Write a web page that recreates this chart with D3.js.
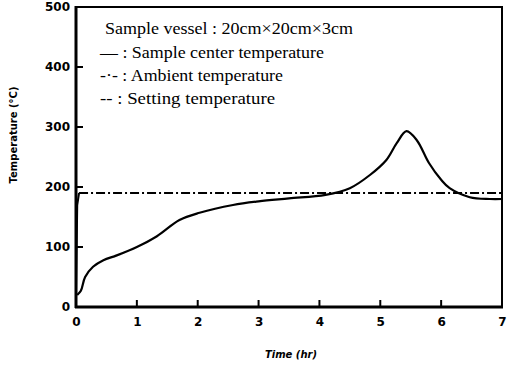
<!DOCTYPE html>
<html><head><meta charset="utf-8">
<script src="https://cdn.jsdelivr.net/npm/d3@7"></script>
<style>body{margin:0;background:#fff}svg{display:block}</style>
</head><body>
<svg id="c" width="513" height="366"></svg>
<script>
const xTicks = [0,1,2,3,4,5,6,7];
const yTicks = [0,100,200,300,400,500];
const centerTime = [0.02,0.08,0.15,0.28,0.45,0.67,1.0,1.33,1.7,2.03,2.58,3.0,3.5,4.1,4.5,4.83,5.1,5.27,5.43,5.6,5.8,6.0,6.14,6.47,6.8,7.0];
const centerTemp = [20,27,50,67,78,86,100,118,145,157,170,176,181,187,198,220,245,273,293,278,240,212,198,183,180,180];
const ambientTime = [0,0.02,0.05,1,2,3,4,5,6,7];
const ambientTemp = [20,170,190,190,190,190,190,190,190,190];
const legendLines = ["Sample vessel : 20cm\u00D720cm\u00D73cm","\u2014 : Sample center temperature","-\u00B7- : Ambient temperature","-- : Setting temperature"];

const svg = d3.select("#c");
const x = d3.scaleLinear().domain([0,7]).range([76,502]);
const y = d3.scaleLinear().domain([0,500]).range([307,7]);

// frame
svg.append("rect").attr("x",76).attr("y",7).attr("width",426).attr("height",300)
  .attr("fill","none").attr("stroke","#000").attr("stroke-width",2);
svg.append("line").attr("x1",76).attr("x2",76).attr("y1",6).attr("y2",308).attr("stroke","#000").attr("stroke-width",3);
svg.append("line").attr("x1",75).attr("x2",503).attr("y1",307).attr("y2",307).attr("stroke","#000").attr("stroke-width",3);

const tf = "'DejaVu Sans', sans-serif";
const xAxis = d3.axisBottom(x).tickValues(xTicks).tickSize(0).tickPadding(10).tickFormat(d3.format("d"));
const gx = svg.append("g").attr("transform","translate(0,307)").call(xAxis);
gx.select(".domain").remove();
gx.selectAll("text").attr("font-family",tf).attr("font-weight","bold").attr("font-size",12);
const yAxis = d3.axisLeft(y).tickValues(yTicks).tickSize(0).tickPadding(6).tickFormat(d3.format("d"));
const gy = svg.append("g").attr("transform","translate(76,0)").call(yAxis);
gy.select(".domain").remove();
gy.selectAll("text").attr("font-family",tf).attr("font-weight","bold").attr("font-size",12);

// inward ticks
svg.append("g").selectAll("line").data(xTicks.slice(1,-1)).join("line")
  .attr("x1",d=>x(d)).attr("x2",d=>x(d)).attr("y1",307).attr("y2",300).attr("stroke","#000").attr("stroke-width",2);
svg.append("g").selectAll("line").data(yTicks.slice(1,-1)).join("line")
  .attr("y1",d=>y(d)).attr("y2",d=>y(d)).attr("x1",76).attr("x2",83).attr("stroke","#000").attr("stroke-width",2);

// ambient: steep start solid, plateau dash-dot
const lineA = d3.line().x(d=>x(d[0])).y(d=>y(d[1]));
const amb = ambientTime.map((t,i)=>[t,ambientTemp[i]]);
svg.append("path").attr("d",lineA(amb.slice(0,3))).attr("fill","none").attr("stroke","#000").attr("stroke-width",2);
svg.append("path").attr("d",lineA(amb.slice(2))).attr("fill","none").attr("stroke","#000")
  .attr("stroke-width",2).attr("stroke-dasharray","9,3,2,3");
// center
const lineC = d3.line().x((d,i)=>x(centerTime[i])).y(d=>y(d)).curve(d3.curveCatmullRom);
svg.append("path").attr("d",lineC(centerTemp)).attr("fill","none").attr("stroke","#000").attr("stroke-width",2.2);

// legend
const legW = [248,224,183,175];
svg.append("g").selectAll("text").data(legendLines).join("text")
  .attr("x",(d,i)=>i===0?105:100).attr("y",(d,i)=>[34,58,81,104][i])
  .attr("textLength",(d,i)=>legW[i]).attr("lengthAdjust","spacingAndGlyphs")
  .attr("font-family","'Liberation Serif', serif").attr("font-size",17).text(d=>d);

// axis titles
svg.append("text").attr("transform","translate(17,135) rotate(-90)").attr("text-anchor","middle")
  .attr("font-family",tf).attr("font-weight","bold").attr("font-size",10).text("Temperature  (\u00B0C)");
svg.append("text").attr("x",291).attr("y",358).attr("text-anchor","middle")
  .attr("font-family",tf).attr("font-weight","bold").attr("font-style","italic").attr("font-size",10).text("Time  (hr)");
</script>
</body></html>
